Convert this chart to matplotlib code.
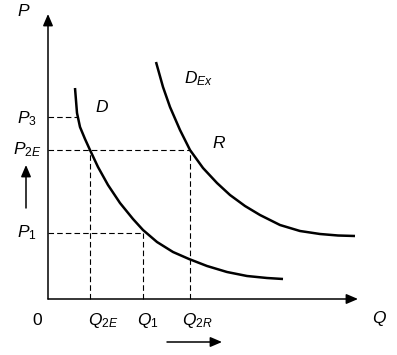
import matplotlib
matplotlib.use("Agg")
import matplotlib.pyplot as plt

plt.rcParams['font.family'] = ['Liberation Sans', 'DejaVu Sans']
plt.rcParams['mathtext.fontset'] = 'custom'
plt.rcParams['mathtext.rm'] = 'Liberation Sans'
plt.rcParams['mathtext.it'] = 'Liberation Sans:italic'

# quantities and prices (origin at the axes corner)
q2e, q1, q2r = 42, 95, 142
p1, p2e, p3 = 66, 149, 182

# demand curve D
d_q = [27, 29, 32, 37, 42, 50, 60, 72, 85, 95, 109, 125, 141, 159, 179, 199, 219, 235]
d_p = [211, 186, 172, 160, 149, 132, 114, 96, 80, 69, 57, 47, 40, 33, 27, 23, 21, 20]

# export demand curve D_Ex
dex_q = [108, 115, 122, 132, 142, 155, 169, 182, 197, 212, 232, 252, 272, 290, 307]
dex_p = [237, 212, 192, 169, 149, 131, 116, 104, 93, 84, 74, 68, 65, 63.5, 63]

fig = plt.figure(figsize=(3.97, 3.55), dpi=100)
ax = fig.add_axes([0, 0, 1, 1])
ax.set_xlim(-48, 349)
ax.set_ylim(-56, 299)
ax.axis('off')

# axes with arrow heads
arr = dict(arrowstyle='-|>,head_length=0.7,head_width=0.3', color='black', lw=1.1, shrinkA=0, shrinkB=0)
ax.annotate('', xy=(0, 285), xytext=(0, 0), arrowprops=arr)
ax.annotate('', xy=(310, 0), xytext=(0, 0), arrowprops=arr)

# curves
ax.plot(d_q, d_p, color='black', lw=1.8, solid_joinstyle='round', solid_capstyle='butt')
ax.plot(dex_q, dex_p, color='black', lw=1.8, solid_joinstyle='round', solid_capstyle='butt')

# dashed guides
dkw = dict(color='black', lw=0.8, dashes=(5, 2.8))
ax.plot([0, 30], [p3, p3], **dkw)
ax.plot([0, q2r], [p2e, p2e], **dkw)
ax.plot([0, q1], [p1, p1], **dkw)
ax.plot([q2e, q2e], [0, p2e], **dkw)
ax.plot([q1, q1], [0, p1], **dkw)
ax.plot([q2r, q2r], [0, p2e], **dkw)

# direction arrows
ax.annotate('', xy=(174, -43), xytext=(119, -43), arrowprops=arr)
ax.annotate('', xy=(-22, 134), xytext=(-22, 91), arrowprops=arr)

fs = 12.5
tkw = dict(fontsize=fs, ha='left', va='baseline')
ax.text(-31, 283, r'$P$', **tkw)
ax.text(-31, 176, r'$P_{3}$', **tkw)
ax.text(-35, 145, r'$P_{2E}$', **tkw)
ax.text(-31, 62, r'$P_{1}$', **tkw)
ax.text(-16, -26, '0', **tkw)
ax.text(40, -26, r'$Q_{2E}$', **tkw)
ax.text(89, -26, r'$Q_{1}$', **tkw)
ax.text(134, -26, r'$Q_{2R}$', **tkw)
ax.text(324, -24, r'$Q$', **tkw)
ax.text(47, 187, r'$D$', **tkw)
ax.text(136, 216, r'$D_{Ex}$', **tkw)
ax.text(164, 151, r'$R$', **tkw)

fig.savefig('out.png', dpi=100)
